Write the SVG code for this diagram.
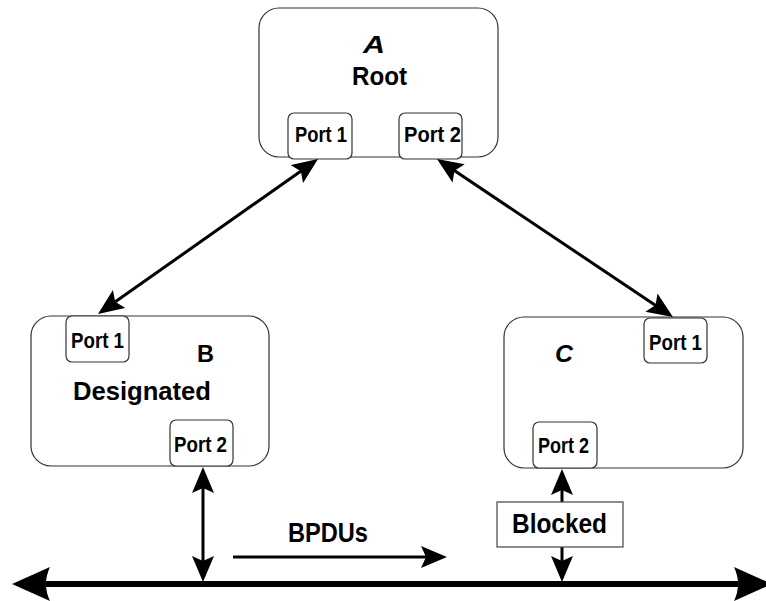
<svg xmlns="http://www.w3.org/2000/svg" width="766" height="601" viewBox="0 0 766 601">
<style>
.box{fill:#fff;stroke:#333;stroke-width:1.2}
.port{fill:#fff;stroke:#333;stroke-width:1.2}
.t{font-family:"Liberation Sans",Arial,sans-serif;font-weight:bold;fill:#000}
.p{font-size:22px}
.conn{stroke:#000;stroke-width:3;fill:none}
.bus{stroke:#000;stroke-width:6;fill:none}
</style>
<defs>
<marker id="ah" viewBox="0 0 26 22" refX="20" refY="11" markerWidth="26" markerHeight="22" markerUnits="userSpaceOnUse" orient="auto-start-reverse">
<path d="M0,0 L26,11 L0,22 L5,11 Z" fill="#000"/>
</marker>
<marker id="big" viewBox="0 0 38 34" refX="30" refY="17" markerWidth="38" markerHeight="34" markerUnits="userSpaceOnUse" orient="auto-start-reverse">
<path d="M0,0 L38,17 L0,34 Q8,17 0,0 Z" fill="#000"/>
</marker>
</defs>
<rect width="766" height="601" fill="#fff"/>

<g id="nodeA">
<rect class="box" x="259" y="8" width="239" height="149" rx="20"/>
<rect class="port" x="288" y="113" width="64" height="46" rx="6"/>
<rect class="port" x="399" y="113" width="63" height="46" rx="6"/>
<text class="t" x="363" y="53" font-size="23" font-style="italic" textLength="22" lengthAdjust="spacingAndGlyphs">A</text>
<text class="t" x="352" y="85" font-size="25" textLength="55" lengthAdjust="spacingAndGlyphs">Root</text>
<text class="t p" x="295" y="142" textLength="52" lengthAdjust="spacingAndGlyphs">Port 1</text>
<text class="t p" x="404" y="142" textLength="57" lengthAdjust="spacingAndGlyphs">Port 2</text>
</g>

<g id="nodeB">
<rect class="box" x="31" y="316" width="238" height="150" rx="20"/>
<rect class="port" x="66" y="316" width="63" height="46" rx="6"/>
<rect class="port" x="170" y="420" width="63" height="46" rx="6"/>
<text class="t" x="197" y="362" font-size="24" textLength="17" lengthAdjust="spacingAndGlyphs">B</text>
<text class="t" x="73" y="400" font-size="25" textLength="138" lengthAdjust="spacingAndGlyphs">Designated</text>
<text class="t p" x="71" y="348" textLength="53" lengthAdjust="spacingAndGlyphs">Port 1</text>
<text class="t p" x="174" y="452" textLength="53" lengthAdjust="spacingAndGlyphs">Port 2</text>
</g>

<g id="nodeC">
<rect class="box" x="504" y="317" width="239" height="151" rx="20"/>
<rect class="port" x="644" y="318" width="63" height="45" rx="6"/>
<rect class="port" x="533" y="422" width="64" height="46" rx="6"/>
<text class="t" x="555" y="362" font-size="24" font-style="italic" textLength="18" lengthAdjust="spacingAndGlyphs">C</text>
<text class="t p" x="649" y="350" textLength="53" lengthAdjust="spacingAndGlyphs">Port 1</text>
<text class="t p" x="538" y="453" textLength="51" lengthAdjust="spacingAndGlyphs">Port 2</text>
</g>

<g id="connectors">
<line class="conn" x1="313.1" y1="162.5" x2="102.9" y2="310.5" marker-start="url(#ah)" marker-end="url(#ah)"/>
<line class="conn" x1="442" y1="162.3" x2="668" y2="313.7" marker-start="url(#ah)" marker-end="url(#ah)"/>
<line class="conn" x1="203" y1="473" x2="203" y2="576" marker-start="url(#ah)" marker-end="url(#ah)"/>
<line class="conn" x1="562" y1="475" x2="562" y2="576" marker-start="url(#ah)" marker-end="url(#ah)"/>
<line class="conn" x1="233" y1="557" x2="441" y2="557" marker-end="url(#ah)"/>
<line class="bus" x1="20" y1="584" x2="764" y2="584" marker-start="url(#big)" marker-end="url(#big)"/>
<text class="t" x="288" y="542" font-size="27" textLength="80" lengthAdjust="spacingAndGlyphs">BPDUs</text>
<g id="blocked">
<rect x="497" y="502" width="126" height="45" fill="#fff" stroke="#444" stroke-width="1.2"/>
<text class="t" x="512" y="533" font-size="27" textLength="95" lengthAdjust="spacingAndGlyphs">Blocked</text>
</g>
</g>
</svg>
